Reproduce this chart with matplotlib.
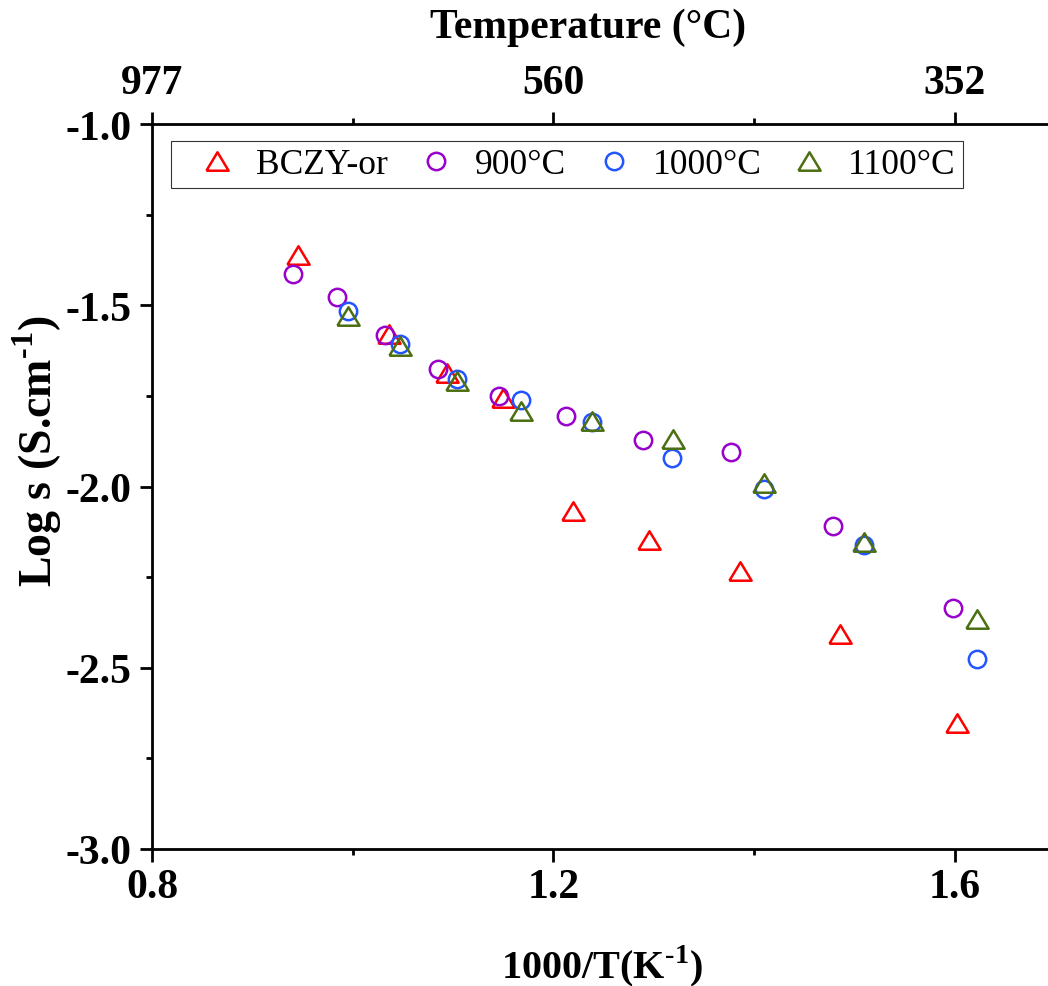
import matplotlib
matplotlib.use('Agg')
import matplotlib.pyplot as plt

plt.rcParams['font.family'] = ['Liberation Serif', 'DejaVu Serif']
plt.rcParams['mathtext.fontset'] = 'custom'
plt.rcParams['mathtext.rm'] = 'Liberation Serif'
plt.rcParams['mathtext.bf'] = 'Liberation Serif:bold'
plt.rcParams['axes.unicode_minus'] = False

# ---- data (1000/T in K^-1, log conductivity) ----
x_bczy = [0.9455, 1.036, 1.094, 1.150, 1.219, 1.295, 1.386, 1.485, 1.602]
y_bczy = [-1.361, -1.579, -1.687, -1.756, -2.068, -2.148, -2.233, -2.407, -2.652]

x_900 = [0.9405, 0.9843, 1.032, 1.085, 1.146, 1.212, 1.289, 1.377, 1.478, 1.598]
y_900 = [-1.414, -1.477, -1.582, -1.676, -1.750, -1.806, -1.872, -1.905, -2.109, -2.335]

x_1000 = [0.9953, 1.047, 1.104, 1.168, 1.238, 1.318, 1.410, 1.509, 1.622]
y_1000 = [-1.516, -1.607, -1.703, -1.761, -1.822, -1.921, -2.007, -2.161, -2.476]

x_1100 = [0.9953, 1.047, 1.104, 1.168, 1.238, 1.319, 1.410, 1.509, 1.622]
y_1100 = [-1.530, -1.612, -1.709, -1.792, -1.819, -1.869, -1.990, -2.153, -2.366]

labels = ['BCZY-or', '900°C', '1000°C', '1100°C']
colors = ['#FF0000', '#9900CC', '#2255FF', '#4C6F12']

xticks_major = [0.8, 1.2, 1.6]
xticks_minor = [1.0, 1.4]
bottom_ticklabels = ['0.8', '1.2', '1.6']
top_ticklabels = ['977', '560', '352']
yticks_major = [-3.0, -2.5, -2.0, -1.5, -1.0]
yticks_minor = [-2.75, -2.25, -1.75, -1.25]
ytick_labels = ['-3.0', '-2.5', '-2.0', '-1.5', '-1.0']

W, H = 1048, 987
fig = plt.figure(figsize=(W / 100, H / 100), dpi=100)
ax = fig.add_axes([152 / W, 1 - 850 / H, 1 - 152 / W, (850 - 125) / H])

tri = [(-1, -0.83), (1, -0.83), (0, 0.83), (-1, -0.83)]

series = [
    (x_bczy, y_bczy, tri, 16),
    (x_900, y_900, 'o', 12.5),
    (x_1000, y_1000, 'o', 12.5),
    (x_1100, y_1100, tri, 16),
]
handles = []
for (xs, ys, m, ms), lab, c in zip(series, labels, colors):
    h, = ax.plot(xs, ys, linestyle='none', marker=m, markersize=ms,
                 markerfacecolor='none', markeredgecolor=c, markeredgewidth=1.8,
                 label=lab)
    handles.append(h)

xmax = 0.8 + (W - 152) / 1003.75
ax.set_xlim(0.8, xmax)
ax.set_ylim(-3.0, -1.0)
ax.set_xticks(xticks_major)
ax.set_xticks(xticks_minor, minor=True)
ax.set_xticklabels(bottom_ticklabels)
ax.set_yticks(yticks_major)
ax.set_yticks(yticks_minor, minor=True)
ax.set_yticklabels(ytick_labels)

for lab in ax.get_xticklabels() + ax.get_yticklabels():
    lab.set_fontweight('bold')

ax.tick_params(which='major', direction='out', length=9, width=2, labelsize=30)
ax.tick_params(which='minor', direction='out', length=4, width=2)
ax.tick_params(axis='x', which='major', pad=5)
ax.tick_params(axis='y', which='major', pad=6)
ax.spines['right'].set_visible(False)
ax.spines['top'].set_visible(False)
for s in ['left', 'bottom']:
    ax.spines[s].set_linewidth(2)

ax2 = ax.twiny()
ax2.set_xlim(ax.get_xlim())
ax2.set_xticks(xticks_major)
ax2.set_xticks(xticks_minor, minor=True)
ax2.set_xticklabels(top_ticklabels)
for lab in ax2.get_xticklabels():
    lab.set_fontweight('bold')
ax2.tick_params(which='major', direction='out', length=9, width=2, labelsize=30, pad=7)
ax2.tick_params(which='minor', direction='out', length=4, width=2)
for s in ['right', 'left', 'bottom']:
    ax2.spines[s].set_visible(False)
ax2.spines['top'].set_linewidth(2)

fig.text(588 / W, 1 - 28 / H, 'Temperature (°C)', ha='center', va='center',
         fontsize=30, fontweight='bold')
fig.text(602 / W, 1 - 966 / H, r'1000/T(K$^{\mathbf{‐1}}$)', ha='center', va='center',
         fontsize=29, fontweight='bold')
fig.text(37 / W, 1 - 451 / H, r'Log s (S.cm$^{\mathbf{‐1}}$)', ha='center', va='center',
         rotation=90, fontsize=33, fontweight='bold')

leg = ax.legend(handles=handles, loc='upper left', ncol=4,
                bbox_to_anchor=(171 / W, 1 - 142 / H), bbox_transform=fig.transFigure,
                prop={'size': 25.5}, frameon=True, fancybox=False, shadow=False,
                handlelength=2.2, handletextpad=0.0, columnspacing=0.25,
                borderpad=0.2, borderaxespad=0)
leg.get_frame().set_edgecolor('black')
leg.get_frame().set_linewidth(0.8)

fig.savefig('out.png', dpi=100)
